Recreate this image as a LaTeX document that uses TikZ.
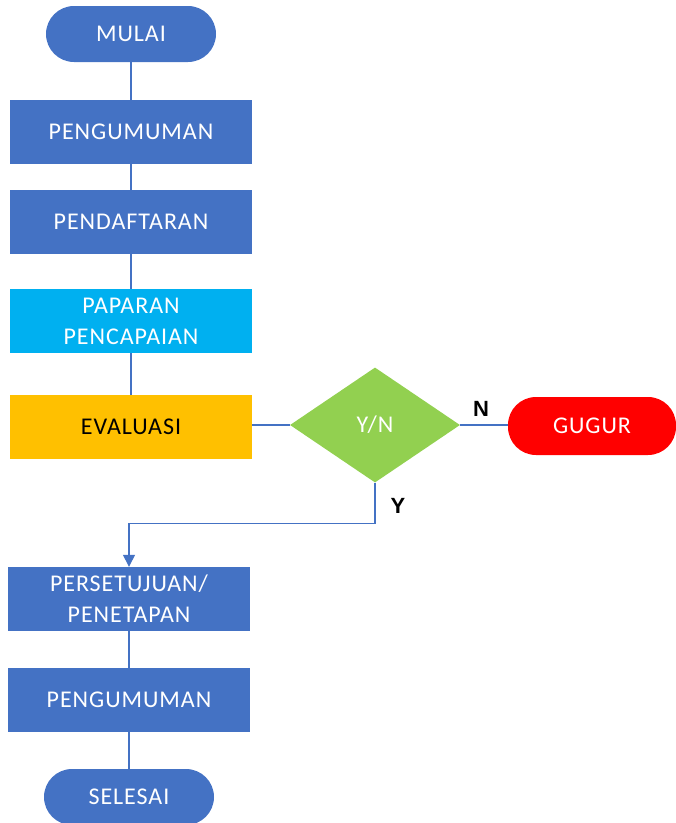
\documentclass[tikz,border=0pt]{standalone}
\usepackage{fontspec}
\setmainfont{Carlito}[LetterSpace=4]
\newfontfamily\yesnofont{Liberation Sans}
\usetikzlibrary{shapes.geometric,arrows.meta}

\definecolor{flowblue}{HTML}{4472C4}
\definecolor{flowcyan}{HTML}{00B0F0}
\definecolor{flowgold}{HTML}{FFC000}
\definecolor{flowgreen}{HTML}{92D050}
\definecolor{flowred}{HTML}{FF0000}

\tikzset{
    stepbox/.style={fill=flowblue, text=white, minimum width=242pt, minimum height=64pt,
        inner sep=0pt, align=center},
    termbox/.style={fill=flowblue, text=white, rounded corners=28pt, minimum width=170pt,
        minimum height=56pt, inner sep=0pt},
    link/.style={draw=flowblue, line width=1.3pt},
    yesno/.style={font=\yesnofont\bfseries\fontsize{22}{24}\selectfont, text=black}
}

\begin{document}
\begin{tikzpicture}[x=1pt,y=-1pt, font=\fontsize{24}{31}\selectfont]
    \useasboundingbox (0,0) rectangle (676,823);

    % Main column
    \node[termbox] (mulai) at (131,34) {MULAI};
    \node[stepbox] (umum1) at (131,132) {PENGUMUMAN};
    \node[stepbox] (daftar) at (131,222) {PENDAFTARAN};
    \node[stepbox, fill=flowcyan] (paparan) at (131,321) {PAPARAN\\PENCAPAIAN};
    \node[stepbox, fill=flowgold, text=black] (eval) at (131,427) {EVALUASI};

    % Decision
    \node[diamond, fill=flowgreen, text=white, minimum width=170pt, minimum height=115pt,
        inner sep=0pt] (yn) at (375,425) {Y/N};
    \node[termbox, fill=flowred, minimum width=168pt, minimum height=58pt] (gugur) at (592,426) {GUGUR};

    % Lower column
    \node[stepbox] (setuju) at (129,599) {PERSETUJUAN/\\PENETAPAN};
    \node[stepbox] (umum2) at (129,700) {PENGUMUMAN};
    \node[termbox] (selesai) at (129,797) {SELESAI};

    % Connectors
    \draw[link] (mulai) -- (umum1);
    \draw[link] (umum1) -- (daftar);
    \draw[link] (daftar) -- (paparan);
    \draw[link] (paparan) -- (eval);
    \draw[link] (eval.east |- yn.west) -- (yn.west);
    \draw[link] (yn.east) -- (gugur.west |- yn.east);
    \draw[link, -{Triangle[length=12pt,width=12pt]}] (yn.south) -- ++(0,41) -| (setuju.north);
    \draw[link] (setuju) -- (umum2);
    \draw[link] (umum2) -- (selesai);

    % Branch labels
    \node[yesno] (nlabel) at (481,409) {N};
    \node[yesno] (ylabel) at (398,506) {Y};
\end{tikzpicture}
\end{document}
